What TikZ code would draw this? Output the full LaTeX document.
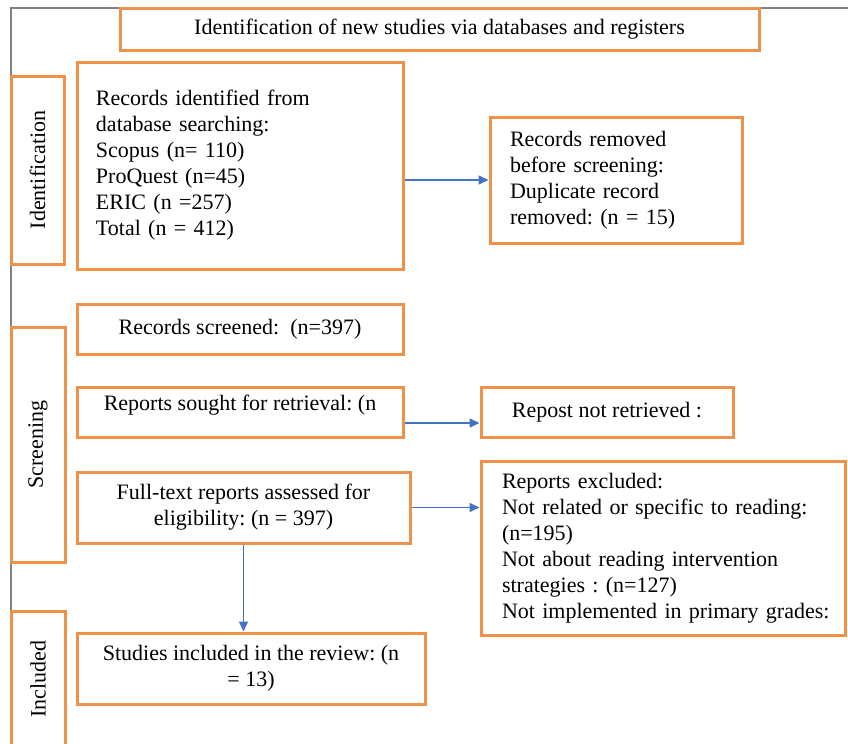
\documentclass[tikz,border=0pt]{standalone}
\usepackage{fontspec}
\setmainfont{Liberation Serif}
\usetikzlibrary{arrows.meta}
\frenchspacing
\begin{document}
\begin{tikzpicture}[x=0.5pt, y=-0.5pt, font=\fontsize{11}{13}\selectfont,
  box/.style={draw=frame, line width=1.5pt, inner sep=0pt},
  side/.style={box, rotate=90},
  arr/.style={draw=link, line width=0.8pt, -{Triangle[length=5pt,width=4.5pt]}}]
\definecolor{frame}{RGB}{237,145,75}
\definecolor{link}{RGB}{68,114,196}
\useasboundingbox (0,0) rectangle (848,744);
\clip (0,0) rectangle (848,744);
\draw[gray, line width=1pt] (848,8) -- (11,8) -- (11,744);

\node[box, minimum width=319.5pt, minimum height=21pt] (title) at (439.5,29) {Identification of new studies via databases and registers};

% identification
\node[side, minimum width=94pt, minimum height=26.5pt] (ident) at (37.5,170) {Identification};
\node[box, minimum width=163pt, minimum height=103.5pt, text width=144pt, align=left] (found) at (240,165.5)
  {Records identified from\\database searching:\\Scopus (n= 110)\\ProQuest (n=45)\\ERIC (n =257)\\Total (n = 412)};
\node[box, minimum width=126pt, minimum height=63pt, text width=106pt, align=left] (removed) at (616,180)
  {Records removed\\before screening:\\Duplicate record\\removed: (n = 15)};

% screening
\node[side, minimum width=117.5pt, minimum height=27pt] (screen) at (38,444.5) {Screening};
\node[box, minimum width=163pt, minimum height=25pt] (screened) at (240,329) {Records screened:\ \ (n=397)};
\node[box, minimum width=163pt, minimum height=25pt, text depth=9.5pt] (sought) at (240,412) {Reports sought for retrieval: (n};
\node[box, minimum width=126pt, minimum height=25pt] (notret) at (607,412) {Repost not retrieved :};
\node[box, minimum width=166.5pt, minimum height=35.5pt, align=center] (fulltext) at (243.5,507.5)
  {Full-text reports assessed for\\eligibility: (n = 397)};
\node[box, minimum width=182pt, minimum height=87pt, text width=161pt, align=left] (excluded) at (663,548)
  {Reports excluded:\\Not related or specific to reading:\\(n=195)\\Not about reading intervention\\strategies : (n=127)\\\mbox{Not implemented in primary grades:}};

% included
\node[side, minimum width=68pt, minimum height=27pt] (incl) at (38,679) {Included};
\node[box, minimum width=174pt, minimum height=35.5pt, align=center] (studies) at (251,668.5)
  {Studies included in the review: (n\\= 13)};

\draw[arr] (found.east |- removed.west) -- (removed.west);
\draw[arr] ([yshift=-5.5pt]sought.east) -- ([yshift=-5.5pt]notret.west);
\draw[arr] (fulltext.east) -- (fulltext.east -| excluded.west);
\draw[arr] (fulltext.south) -- (fulltext.south |- studies.north);
\end{tikzpicture}
\end{document}
